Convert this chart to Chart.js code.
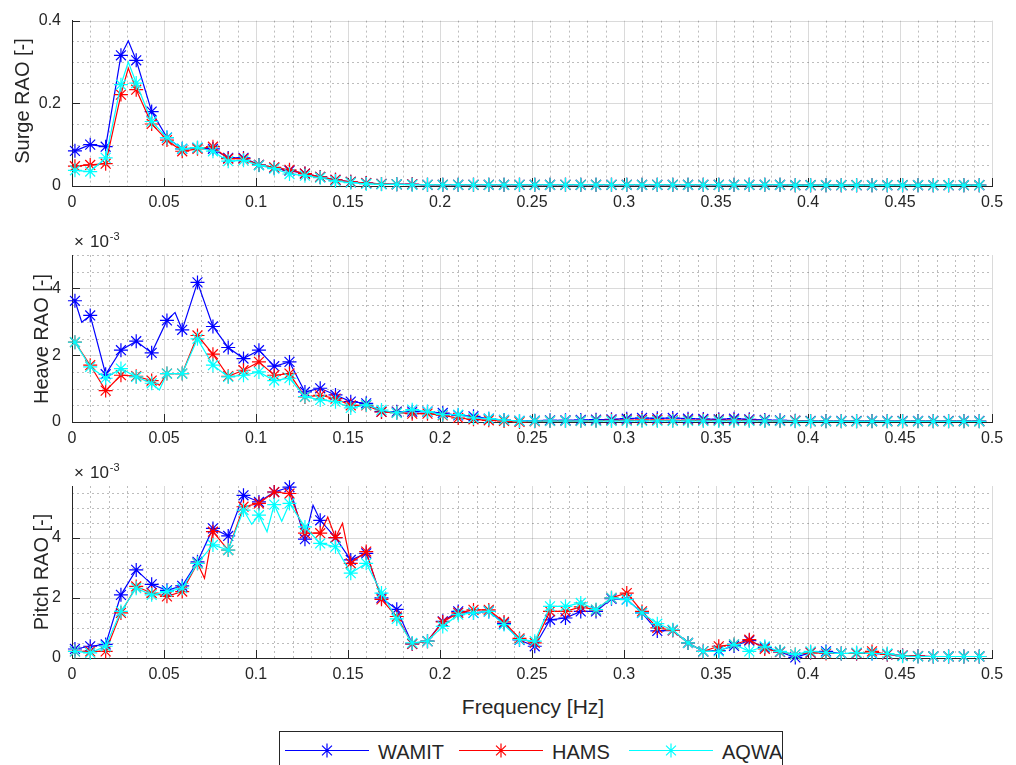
<!DOCTYPE html>
<html>
<head>
<meta charset="utf-8">
<script src="https://cdn.jsdelivr.net/npm/chart.js@4.4.1/dist/chart.umd.min.js"></script>
<style>
  body { margin: 0; width: 1016px; height: 765px; overflow: hidden; background: #fff; position: relative;
         font-family: "Liberation Sans", Arial, Helvetica, sans-serif; color: #262626; }
  canvas { position: absolute; left: 0; }
  .ylab { position: absolute; font-size: 20px; white-space: nowrap; transform: translate(-50%, -50%) rotate(-90deg); }
  .exp { position: absolute; font-size: 17px; line-height: 16px; white-space: nowrap; }
  .exp sup { font-size: 11px; vertical-align: 7px; line-height: 0; margin-left: 1px; }
  .xlab { position: absolute; font-size: 21px; white-space: nowrap; transform: translateX(-50%); }
  #legend { position: absolute; left: 279px; top: 731px; }
</style>
</head>
<body>
<canvas id="surge" width="1016" height="218" style="top:0"></canvas>
<canvas id="heave" width="1016" height="224" style="top:230px"></canvas>
<canvas id="pitch" width="1016" height="228" style="top:462px"></canvas>

<div class="ylab" style="left:22px;top:101px">Surge RAO [-]</div>
<div class="ylab" style="left:41px;top:339px">Heave RAO [-]</div>
<div class="ylab" style="left:41px;top:572px">Pitch RAO [-]</div>
<div class="exp" style="left:74px;top:234px">×<span style="margin-left:6px">10</span><sup>-3</sup></div>
<div class="exp" style="left:74px;top:465px">×<span style="margin-left:6px">10</span><sup>-3</sup></div>
<div class="xlab" style="left:533px;top:695px">Frequency [Hz]</div>

<svg id="legend" width="505" height="40" xmlns="http://www.w3.org/2000/svg"></svg>

<script>
// wave frequencies [Hz] of the solver outputs (marked points)
const freq = [
  0.0016, 0.0099, 0.0183, 0.0266, 0.0349, 0.0433, 0.0516, 0.0599, 0.0682, 0.0766,
  0.0849, 0.0932, 0.1016, 0.1099, 0.1182, 0.1266, 0.1349, 0.1432, 0.1515, 0.1599,
  0.1682, 0.1765, 0.1849, 0.1932, 0.2015, 0.2099, 0.2182, 0.2265, 0.2348, 0.2432,
  0.2515, 0.2598, 0.2682, 0.2765, 0.2848, 0.2932, 0.3015, 0.3098, 0.3181, 0.3265,
  0.3348, 0.3431, 0.3515, 0.3598, 0.3681, 0.3765, 0.3848, 0.3931, 0.4014, 0.4098,
  0.4181, 0.4264, 0.4348, 0.4431, 0.4514, 0.4598, 0.4681, 0.4764, 0.4847, 0.4931
];

// Surge RAO [-]
const surgeWamit = [
  0.085, 0.100, 0.095, 0.316, 0.304, 0.180, 0.117, 0.090, 0.092, 0.090,
  0.068, 0.068, 0.051, 0.044, 0.037, 0.030, 0.022, 0.015, 0.010, 0.007,
  0.005, 0.004, 0.004, 0.003, 0.003, 0.003, 0.003, 0.003, 0.003, 0.003,
  0.003, 0.003, 0.003, 0.003, 0.003, 0.003, 0.003, 0.003, 0.003, 0.003,
  0.003, 0.003, 0.003, 0.003, 0.003, 0.003, 0.003, 0.002, 0.002, 0.002,
  0.002, 0.002, 0.002, 0.002, 0.002, 0.002, 0.002, 0.002, 0.002, 0.002
];
const surgeHams = [
  0.048, 0.051, 0.054, 0.221, 0.233, 0.150, 0.111, 0.084, 0.090, 0.095,
  0.066, 0.066, 0.051, 0.045, 0.039, 0.030, 0.022, 0.015, 0.010, 0.007,
  0.005, 0.004, 0.004, 0.003, 0.003, 0.003, 0.003, 0.003, 0.003, 0.003,
  0.003, 0.003, 0.003, 0.003, 0.003, 0.003, 0.003, 0.003, 0.003, 0.003,
  0.003, 0.003, 0.003, 0.003, 0.003, 0.003, 0.003, 0.002, 0.002, 0.002,
  0.002, 0.002, 0.002, 0.002, 0.002, 0.002, 0.002, 0.002, 0.002, 0.002
];
const surgeAqwa = [
  0.038, 0.035, 0.068, 0.245, 0.249, 0.156, 0.117, 0.090, 0.093, 0.084,
  0.060, 0.062, 0.050, 0.042, 0.029, 0.025, 0.020, 0.012, 0.008, 0.005,
  0.004, 0.004, 0.003, 0.003, 0.003, 0.003, 0.003, 0.003, 0.003, 0.003,
  0.003, 0.003, 0.003, 0.003, 0.003, 0.003, 0.003, 0.003, 0.003, 0.003,
  0.003, 0.003, 0.003, 0.003, 0.003, 0.003, 0.003, 0.002, 0.002, 0.002,
  0.002, 0.002, 0.002, 0.002, 0.002, 0.002, 0.002, 0.002, 0.002, 0.002
];

// Heave RAO [-], in units of 1e-3
const heaveWamit = [
  3.63, 3.19, 1.43, 2.15, 2.42, 2.07, 3.04, 2.76, 4.18, 2.86,
  2.23, 1.90, 2.15, 1.67, 1.80, 0.90, 1.01, 0.81, 0.61, 0.56,
  0.31, 0.31, 0.31, 0.31, 0.27, 0.20, 0.17, 0.10, 0.06, 0.03,
  0.04, 0.05, 0.05, 0.06, 0.07, 0.08, 0.10, 0.12, 0.11, 0.12,
  0.10, 0.09, 0.08, 0.10, 0.08, 0.06, 0.05, 0.04, 0.03, 0.03,
  0.03, 0.03, 0.03, 0.03, 0.03, 0.03, 0.03, 0.03, 0.03, 0.03
];
const heaveHams = [
  2.39, 1.70, 0.94, 1.40, 1.37, 1.24, 1.45, 1.45, 2.59, 2.03,
  1.37, 1.55, 1.80, 1.40, 1.45, 0.75, 0.80, 0.70, 0.50, 0.50,
  0.30, 0.28, 0.25, 0.25, 0.20, 0.12, 0.08, 0.05, 0.03, 0.00,
  0.02, 0.03, 0.03, 0.03, 0.04, 0.05, 0.05, 0.06, 0.06, 0.05,
  0.05, 0.05, 0.05, 0.05, 0.05, 0.04, 0.03, 0.03, 0.02, 0.02,
  0.02, 0.02, 0.02, 0.02, 0.02, 0.02, 0.02, 0.02, 0.02, 0.02
];
const heaveAqwa = [
  2.39, 1.65, 1.31, 1.60, 1.35, 1.16, 1.45, 1.45, 2.49, 1.70,
  1.35, 1.40, 1.50, 1.24, 1.31, 0.76, 0.66, 0.61, 0.42, 0.51,
  0.36, 0.27, 0.37, 0.31, 0.22, 0.22, 0.12, 0.10, 0.06, 0.03,
  0.03, 0.03, 0.03, 0.03, 0.03, 0.03, 0.03, 0.03, 0.03, 0.03,
  0.03, 0.03, 0.03, 0.03, 0.03, 0.03, 0.03, 0.02, 0.02, 0.02,
  0.02, 0.02, 0.02, 0.02, 0.02, 0.02, 0.02, 0.02, 0.02, 0.02
];

// Pitch RAO [-], in units of 1e-3
const pitchWamit = [
  0.30, 0.39, 0.45, 2.10, 2.93, 2.45, 2.25, 2.40, 3.20, 4.31,
  4.06, 5.41, 5.19, 5.52, 5.68, 3.95, 4.58, 4.00, 3.26, 3.48,
  2.00, 1.62, 0.47, 0.56, 1.22, 1.55, 1.50, 1.55, 1.15, 0.60,
  0.39, 1.27, 1.33, 1.55, 1.55, 1.97, 1.95, 1.50, 0.90, 0.92,
  0.50, 0.22, 0.25, 0.40, 0.58, 0.35, 0.20, 0.02, 0.18, 0.22,
  0.15, 0.15, 0.15, 0.12, 0.08, 0.06, 0.05, 0.05, 0.05, 0.05
];
const pitchHams = [
  0.22, 0.22, 0.22, 1.50, 2.38, 2.16, 2.05, 2.21, 3.15, 4.20,
  3.59, 5.03, 5.14, 5.52, 5.47, 4.15, 4.15, 4.00, 3.15, 3.54,
  1.95, 1.38, 0.47, 0.56, 1.20, 1.50, 1.60, 1.60, 1.20, 0.65,
  0.50, 1.55, 1.55, 1.70, 1.60, 2.00, 2.16, 1.55, 1.00, 0.92,
  0.50, 0.22, 0.39, 0.45, 0.61, 0.30, 0.20, 0.12, 0.18, 0.15,
  0.15, 0.15, 0.22, 0.12, 0.08, 0.06, 0.05, 0.05, 0.05, 0.05
];
const pitchAqwa = [
  0.22, 0.17, 0.39, 1.55, 2.32, 2.10, 2.21, 2.32, 3.15, 3.76,
  3.59, 4.92, 4.75, 5.10, 5.14, 4.36, 3.81, 3.70, 2.82, 3.15,
  2.16, 1.30, 0.50, 0.56, 1.05, 1.44, 1.50, 1.55, 1.11, 0.61,
  0.56, 1.72, 1.72, 1.83, 1.61, 2.00, 1.94, 1.50, 1.14, 0.94,
  0.50, 0.22, 0.22, 0.45, 0.22, 0.39, 0.22, 0.12, 0.22, 0.18,
  0.15, 0.18, 0.15, 0.15, 0.06, 0.05, 0.05, 0.05, 0.05, 0.05
];

// unmarked in-between samples, [frequency, value]
const surgeWamitMid = [[0.0306, 0.351]];
const surgeHamsMid  = [[0.0306, 0.285]];
const surgeAqwaMid  = [[0.0306, 0.300]];
const heaveWamitMid = [[0.0053, 2.99], [0.056, 3.28]];
const heaveHamsMid  = [[0.0475, 1.10]];
const heaveAqwaMid  = [[0.0475, 0.96]];
const pitchWamitMid = [[0.131, 5.08]];
const pitchHamsMid  = [[0.072, 2.65], [0.139, 4.69], [0.147, 4.48]];
const pitchAqwaMid  = [[0.0977, 4.45], [0.106, 4.20], [0.114, 4.55]];

const solvers = ['WAMIT', 'HAMS', 'AQWA'];
const colors = ['#0000ff', '#ff0000', '#00ffff'];

const INK = '#262626';
const FONT = '"Liberation Sans", Arial, Helvetica, sans-serif';

function series(vals, mids) {
  const pts = freq.map((f, i) => ({ x: f, y: vals[i], m: true }));
  mids.forEach(([f, v]) => pts.push({ x: f, y: v, m: false }));
  return pts.sort((a, b) => a.x - b.x);
}

// MATLAB-style grid: dotted minor lines, faint major lines, inward tick marks
const matlabGrid = {
  id: 'matlabGrid',
  beforeDatasetsDraw(chart, args, opts) {
    const { ctx, chartArea: a, scales: { x, y } } = chart;
    const px = v => Math.round(v) + 0.5;
    ctx.save();
    ctx.lineWidth = 1;
    // x: minor every 0.01, major every 0.05
    for (let k = 1; k <= 50; k++) {
      const xp = px(x.getPixelForValue(k / 100));
      const major = k % 5 === 0;
      ctx.setLineDash(major ? [] : [2, 3]);
      ctx.strokeStyle = major ? 'rgba(38,38,38,0.17)' : 'rgba(38,38,38,0.3)';
      ctx.beginPath(); ctx.moveTo(xp, a.top); ctx.lineTo(xp, a.bottom); ctx.stroke();
    }
    const n = Math.floor(opts.max / opts.minor + 1e-9);
    const every = Math.round(opts.major / opts.minor);
    for (let k = 1; k <= n; k++) {
      const yp = px(y.getPixelForValue(k * opts.minor));
      const major = k % every === 0;
      ctx.setLineDash(major ? [] : [2, 3]);
      ctx.strokeStyle = major ? 'rgba(38,38,38,0.17)' : 'rgba(38,38,38,0.3)';
      ctx.beginPath(); ctx.moveTo(a.left, yp); ctx.lineTo(a.right, yp); ctx.stroke();
    }
    // tick marks pointing into the axes
    ctx.setLineDash([]);
    ctx.strokeStyle = INK;
    ctx.beginPath();
    for (let k = 0; k <= 10; k++) {
      const xp = px(x.getPixelForValue(k * 0.05));
      ctx.moveTo(xp, a.bottom); ctx.lineTo(xp, a.bottom - 8);
    }
    for (let k = 0; k * opts.major <= opts.max + 1e-9; k++) {
      const yp = px(y.getPixelForValue(k * opts.major));
      ctx.moveTo(a.left, yp); ctx.lineTo(a.left + 8, yp);
    }
    ctx.stroke();
    ctx.restore();
  }
};

function makeChart(id, sets, mids, yMax, yMajor, yMinor, padTop) {
  return new Chart(document.getElementById(id), {
    type: 'line',
    data: {
      datasets: solvers.map((name, k) => ({
        label: name,
        data: series(sets[k], mids[k]),
        borderColor: colors[k],
        borderWidth: 1.2,
        pointStyle: 'star',
        pointRadius: c => (c.raw && c.raw.m ? 7 : 0),
        pointBorderColor: colors[k],
        pointBorderWidth: 1.2,
        pointBackgroundColor: colors[k],
        tension: 0,
        fill: false,
        clip: false,
        order: 2 - k
      }))
    },
    options: {
      responsive: false,
      animation: false,
      devicePixelRatio: 1,
      layout: { padding: { left: 0, right: 24, top: padTop, bottom: 0 } },
      plugins: { legend: { display: false }, tooltip: { enabled: false }, matlabGrid: { max: yMax, major: yMajor, minor: yMinor } },
      scales: {
        x: {
          type: 'linear', min: 0, max: 0.5,
          grid: { display: false, drawTicks: false, tickLength: 0 },
          border: { display: true, color: INK, width: 1 },
          ticks: {
            stepSize: 0.05, autoSkip: false, maxRotation: 0, padding: 7,
            color: INK, font: { family: FONT, size: 16 },
            callback: v => String(+v.toFixed(2))
          },
          afterFit: s => { s.height = 32; }
        },
        y: {
          type: 'linear', min: 0, max: yMax,
          grid: { display: false, drawTicks: false, tickLength: 0 },
          border: { display: true, color: INK, width: 1 },
          ticks: {
            stepSize: yMajor, includeBounds: false, padding: 11,
            color: INK, font: { family: FONT, size: 16 },
            callback: v => String(+v.toFixed(2))
          },
          afterFit: s => { s.width = 72; }
        }
      }
    },
    plugins: [matlabGrid]
  });
}

makeChart('surge', [surgeWamit, surgeHams, surgeAqwa], [surgeWamitMid, surgeHamsMid, surgeAqwaMid], 0.4, 0.2, 0.05, 16);
makeChart('heave', [heaveWamit, heaveHams, heaveAqwa], [heaveWamitMid, heaveHamsMid, heaveAqwaMid], 5, 2, 0.5, 25);
makeChart('pitch', [pitchWamit, pitchHams, pitchAqwa], [pitchWamitMid, pitchHamsMid, pitchAqwaMid], 5.72, 2, 0.5, 24);

// legend box below the axes
const svg = document.getElementById('legend');
const NS = 'http://www.w3.org/2000/svg';
function el(tag, attrs, text) {
  const e = document.createElementNS(NS, tag);
  for (const k in attrs) e.setAttribute(k, attrs[k]);
  if (text) e.textContent = text;
  svg.appendChild(e);
  return e;
}
el('rect', { x: 0.5, y: 0.5, width: 503, height: 45, fill: '#fff', stroke: INK, 'stroke-width': 1 });
const legendX = [6, 180, 350];
solvers.forEach((name, k) => {
  const x0 = legendX[k], cy = 19.5, cx = x0 + 42, r = 7;
  el('line', { x1: x0, y1: cy, x2: x0 + 84, y2: cy, stroke: colors[k], 'stroke-width': 1.2 });
  let d = '';
  for (let j = 0; j < 4; j++) {
    const t = j * Math.PI / 4;
    d += `M${cx - r * Math.cos(t)},${cy - r * Math.sin(t)}L${cx + r * Math.cos(t)},${cy + r * Math.sin(t)}`;
  }
  el('path', { d, stroke: colors[k], 'stroke-width': 1.2, fill: 'none' });
  el('text', { x: x0 + 93, y: 28, 'font-size': 20, 'font-family': FONT, fill: INK }, name);
});
</script>
</body>
</html>
